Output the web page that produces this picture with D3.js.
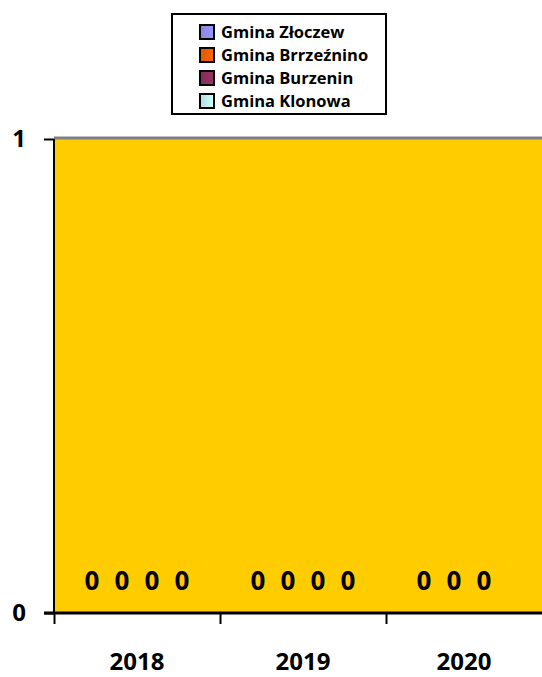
<!DOCTYPE html>
<html>
<head>
<meta charset="utf-8">
<script src="https://cdn.jsdelivr.net/npm/d3@7"></script>
<style>
body { margin: 0; background: #fff; }
svg { display: block; }
</style>
</head>
<body>
<div id="chart"></div>
<script>
var years = ["2018", "2019", "2020"];
var seriesNames = ["Gmina Złoczew", "Gmina Brrzeźnino", "Gmina Burzenin", "Gmina Klonowa"];
var seriesColors = ["#9999ff", "#ff6600", "#993366", "#ccffff"];
// values per series, by year (null = no data)
var zloczew = [0, 0, 0];
var brzeznino = [0, 0, 0];
var burzenin = [0, 0, 0];
var klonowa = [0, 0, null];
var yTicks = [0, 1];

var allSeries = [zloczew, brzeznino, burzenin, klonowa];

var w = 542, h = 677;
var pLeft = 54, pTop = 139, pBottom = 613, pRight = 552;

var svg = d3.select("#chart").append("svg")
	.attr("width", w)
	.attr("height", h);

var x = d3.scaleBand().domain(years).range([pLeft, pRight]).padding(0);
var x1 = d3.scaleBand().domain(d3.range(seriesNames.length)).range([0, x.bandwidth()]).paddingOuter(0.77).paddingInner(0);
var y = d3.scaleLinear().domain([0, 1]).range([pBottom, pTop]);

// plot area
svg.append("rect")
	.attr("x", pLeft)
	.attr("y", pTop)
	.attr("width", pRight - pLeft)
	.attr("height", pBottom - pTop)
	.attr("fill", "#ffcc00");

svg.append("line")
	.attr("x1", pLeft).attr("x2", pRight)
	.attr("y1", pTop - 1).attr("y2", pTop - 1)
	.attr("stroke", "#808080")
	.attr("stroke-width", 3);

// bars + labels
var groups = svg.selectAll(".grp")
	.data(years)
	.enter()
	.append("g")
	.attr("transform", function(d) {return "translate(" + x(d) + ",0)";});

function rowData(d, i) {
	return allSeries.map(function(s, j) {return {j: j, v: s[i]};}).filter(function(o) {return o.v != null;});
}

groups.selectAll("rect")
	.data(rowData)
	.enter()
	.append("rect")
	.attr("x", function(d) {return x1(d.j);})
	.attr("y", function(d) {return y(d.v);})
	.attr("width", x1.bandwidth())
	.attr("height", function(d) {return pBottom - y(d.v);})
	.attr("fill", function(d) {return seriesColors[d.j];});

groups.selectAll("text")
	.data(rowData)
	.enter()
	.append("text")
	.attr("x", function(d) {return x1(d.j) + x1.bandwidth() / 2;})
	.attr("y", function(d) {return y(d.v) - 23;})
	.attr("text-anchor", "middle")
	.attr("font-family", "Open Sans")
	.attr("font-weight", "bold")
	.attr("font-size", "26px")
	.text(function(d) {return d.v;});

// axes
var yAxis = svg.append("g")
	.attr("transform", "translate(" + pLeft + ",0)")
	.call(d3.axisLeft(y).tickValues(yTicks).tickFormat(d3.format("d")).tickSize(10).tickPadding(18));
yAxis.select(".domain").attr("stroke", "#000").attr("stroke-width", 2).attr("d", "M0," + pTop + "V" + pBottom);
yAxis.selectAll(".tick line").attr("stroke", "#000").attr("stroke-width", 2);
yAxis.selectAll(".tick text")
	.attr("font-family", "Open Sans")
	.attr("font-weight", "bold")
	.attr("font-size", "24px")
	.attr("fill", "#000");

var xb = d3.scaleLinear().domain([0, years.length]).range([pLeft, pRight]);
var xAxis = svg.append("g")
	.attr("transform", "translate(0," + pBottom + ")")
	.call(d3.axisBottom(xb).tickValues(d3.range(years.length + 1)).tickFormat("").tickSize(11));
xAxis.select(".domain").attr("stroke", "#000").attr("stroke-width", 3).attr("d", "M" + (pLeft - 10) + ",0H" + pRight);
xAxis.selectAll(".tick line").attr("stroke", "#000").attr("stroke-width", 2);

svg.selectAll(".ylab")
	.data(years)
	.enter()
	.append("text")
	.attr("x", function(d) {return x(d) + x.bandwidth() / 2 - (d === "2020" ? 5 : 0);})
	.attr("y", 670)
	.attr("text-anchor", "middle")
	.attr("font-family", "Open Sans")
	.attr("font-weight", "bold")
	.attr("font-size", "24px")
	.text(function(d) {return d;});

// legend
var lg = svg.append("g");
lg.append("rect")
	.attr("x", 172).attr("y", 14)
	.attr("width", 214).attr("height", 100)
	.attr("fill", "#fff")
	.attr("stroke", "#000")
	.attr("stroke-width", 2);

var grad = svg.append("defs").selectAll("linearGradient")
	.data(seriesColors)
	.enter()
	.append("linearGradient")
	.attr("id", function(d, i) {return "g" + i;});
grad.append("stop").attr("offset", "0%").attr("stop-color", function(d) {return d3.color(d).darker(0.4);});
grad.append("stop").attr("offset", "100%").attr("stop-color", function(d) {return d;});

var items = lg.selectAll(".item")
	.data(seriesNames)
	.enter()
	.append("g")
	.attr("transform", function(d, i) {return "translate(200," + (32 + i * 23) + ")";});
items.append("rect")
	.attr("x", 0).attr("y", -7)
	.attr("width", 14).attr("height", 14)
	.attr("fill", function(d, i) {return "url(#g" + i + ")";})
	.attr("stroke", "#000")
	.attr("stroke-width", 2);
items.append("text")
	.attr("x", 21)
	.attr("y", 6)
	.attr("font-family", "Open Sans")
	.attr("font-weight", "bold")
	.attr("font-size", "16.5px")
	.text(function(d) {return d;});
</script>
</body>
</html>
